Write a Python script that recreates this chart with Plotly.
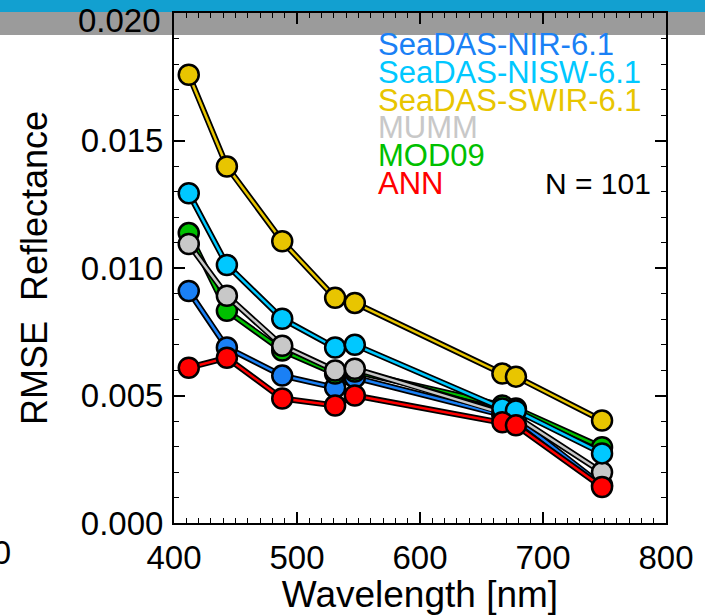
import plotly.graph_objects as go

# MODIS band centres [nm]
wavelength = [412, 443, 488, 531, 547, 667, 678, 748]

# RMSE of retrieved reflectance per algorithm
rmse_nir = [0.00910, 0.00688, 0.00578, 0.00531, 0.00570, 0.00422, 0.00410, 0.00148]
rmse_nisw = [0.01293, 0.01012, 0.00801, 0.00688, 0.00699, 0.00449, 0.00441, 0.00273]
rmse_swir = [0.01758, 0.01398, 0.01105, 0.00883, 0.00863, 0.00586, 0.00574, 0.00402]
rmse_mumm = [0.01094, 0.00891, 0.00695, 0.00598, 0.00605, 0.00430, 0.00418, 0.00199]
rmse_mod09 = [0.01137, 0.00832, 0.00676, 0.00586, 0.00594, 0.00461, 0.00449, 0.00297]
rmse_ann = [0.00609, 0.00648, 0.00488, 0.00461, 0.00500, 0.00395, 0.00383, 0.00141]

legend_names = ["SeaDAS-NIR-6.1", "SeaDAS-NISW-6.1", "SeaDAS-SWIR-6.1", "MUMM", "MOD09", "ANN"]
legend_colors = ["#1a80f5", "#00c8ff", "#e8c500", "#c8c8c8", "#00c000", "#ff0000"]
n_label = "N = 101"

y_tickvals = [0, 0.005, 0.010, 0.015, 0.020]
x_tickvals = [400, 500, 600, 700, 800]

series = {
    "SeaDAS-NIR-6.1": rmse_nir,
    "SeaDAS-NISW-6.1": rmse_nisw,
    "SeaDAS-SWIR-6.1": rmse_swir,
    "MUMM": rmse_mumm,
    "MOD09": rmse_mod09,
    "ANN": rmse_ann,
}
colors = dict(zip(legend_names, legend_colors))
draw_order = ["SeaDAS-NIR-6.1", "MOD09", "MUMM", "SeaDAS-NISW-6.1", "SeaDAS-SWIR-6.1", "ANN"]

FONT = "Liberation Sans, Arial, Helvetica, sans-serif"
W, H = 705, 615
L, R, T, B = 174, 35, 11, 92
PW, PH = W - L - R, H - T - B


def px_x(px):
    return (px - L) / PW


def px_y(py):
    return 1 - (py - T) / PH


fig = go.Figure()
for name in draw_order:
    # black casing under each coloured line
    fig.add_trace(go.Scatter(x=wavelength, y=series[name], mode="lines",
                             line=dict(color="black", width=6),
                             hoverinfo="skip", showlegend=False))
    fig.add_trace(go.Scatter(x=wavelength, y=series[name], mode="lines+markers",
                             name=name,
                             line=dict(color=colors[name], width=2.5),
                             marker=dict(size=20, color=colors[name],
                                         line=dict(color="black", width=2.5)),
                             showlegend=False))

# coloured text legend
ann = []
for i, (name, col) in enumerate(zip(legend_names, legend_colors)):
    ann.append(dict(xref="paper", yref="paper",
                    x=px_x(378), y=px_y(43 + 27.8 * i),
                    xanchor="left", yanchor="middle", showarrow=False,
                    text=name, font=dict(family=FONT, size=31, color=col)))
ann.append(dict(xref="paper", yref="paper",
                x=px_x(657), y=px_y(182),
                xanchor="right", yanchor="middle", showarrow=False,
                text=n_label, font=dict(family=FONT, size=30, color="black")))
# top tick label, set just below the frame
ann.append(dict(xref="paper", yref="paper",
                x=px_x(163), y=px_y(19),
                xanchor="right", yanchor="middle", showarrow=False,
                text=f"{y_tickvals[-1]:.3f}", font=dict(family=FONT, size=33, color="black")))
# edge of the neighbouring panel's axis label
ann.append(dict(xref="paper", yref="paper",
                x=px_x(12), y=px_y(553),
                xanchor="right", yanchor="middle", showarrow=False,
                text="800", font=dict(family=FONT, size=33, color="black")))

shapes = [
    dict(type="rect", xref="paper", yref="paper", layer="below",
         x0=px_x(-5), x1=px_x(W + 5), y0=px_y(10), y1=px_y(-5),
         fillcolor="#12a0d0", line=dict(width=0)),
    dict(type="rect", xref="paper", yref="paper", layer="below",
         x0=px_x(-5), x1=px_x(W + 5), y0=px_y(33), y1=px_y(10),
         fillcolor="#9b9b9b", line=dict(width=0)),
]

axis_common = dict(showline=True, linecolor="black", linewidth=2, mirror="ticks",
                   ticks="inside", tickcolor="black", tickwidth=1.5, ticklen=11,
                   showgrid=False, zeroline=False,
                   tickfont=dict(family=FONT, size=33, color="black"))

fig.update_layout(
    width=W, height=H,
    margin=dict(l=L, r=R, t=T, b=B),
    paper_bgcolor="white", plot_bgcolor="rgba(0,0,0,0)",
    annotations=ann, shapes=shapes,
    xaxis=dict(range=[400, 800], tickvals=x_tickvals,
               minor=dict(dtick=10, ticks="inside", ticklen=5, tickcolor="black", tickwidth=1.2),
               ticklabelstandoff=4,
               title=dict(text="Wavelength [nm]", standoff=2,
                          font=dict(family=FONT, size=37, color="black")),
               **axis_common),
    yaxis=dict(range=[0, 0.020], tickvals=y_tickvals,
               ticktext=[f"{v:.3f}" for v in y_tickvals[:-1]] + [""],
               minor=dict(dtick=0.001, ticks="inside", ticklen=5, tickcolor="black", tickwidth=1.2),
               ticklabelstandoff=2,
               title=dict(text="RMSE  Reflectance", standoff=22,
                          font=dict(family=FONT, size=36, color="black")),
               **axis_common),
)

fig.write_html("out.html")
